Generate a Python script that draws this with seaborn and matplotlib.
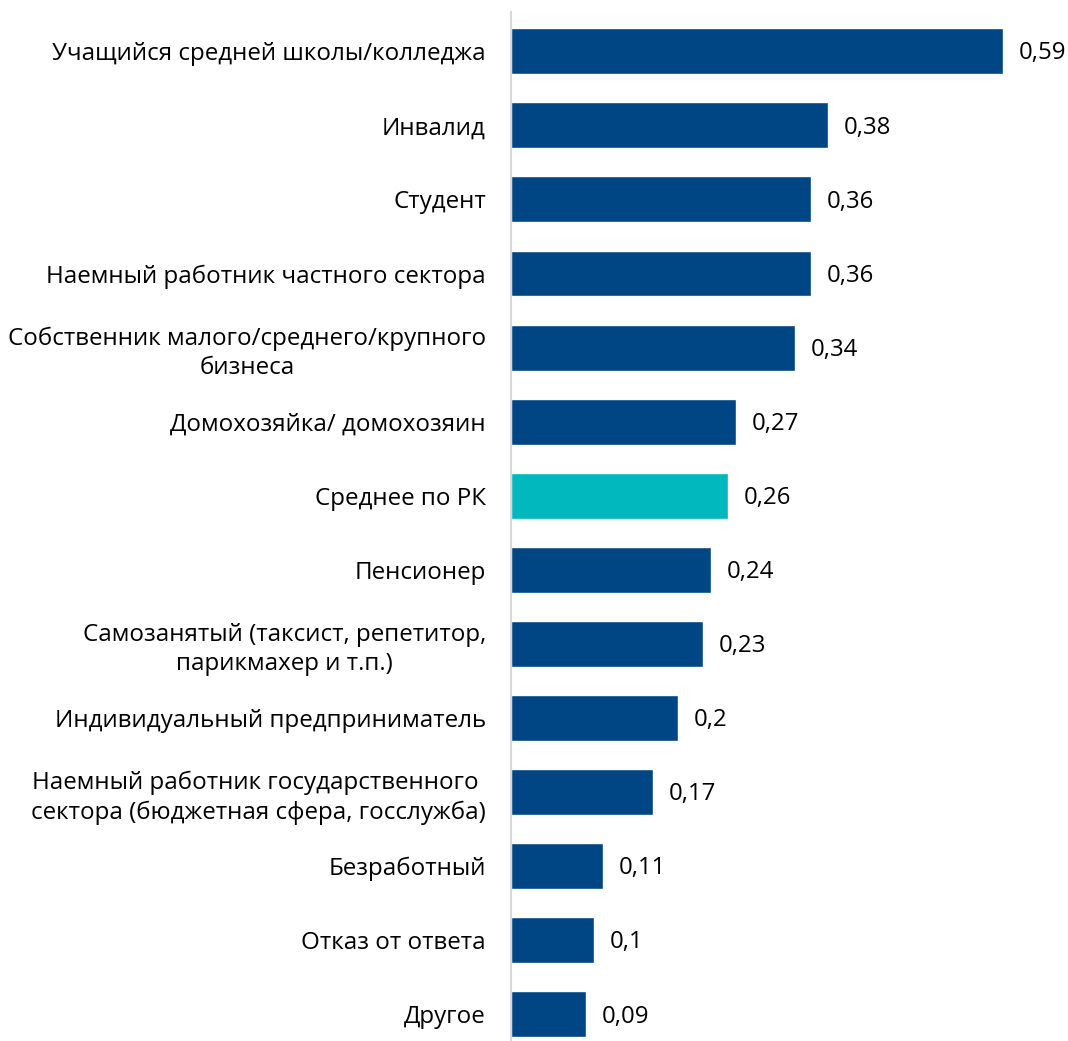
import pandas as pd
import seaborn as sns
import matplotlib.pyplot as plt

categories = [
    'Учащийся средней школы/колледжа',
    'Инвалид',
    'Студент',
    'Наемный работник частного сектора',
    'Собственник малого/среднего/крупного\nбизнеса',
    'Домохозяйка/ домохозяин',
    'Среднее по РК',
    'Пенсионер',
    'Самозанятый (таксист, репетитор,\nпарикмахер и т.п.)',
    'Индивидуальный предприниматель',
    'Наемный работник государственного \nсектора (бюджетная сфера, госслужба)',
    'Безработный',
    'Отказ от ответа',
    'Другое',
]
values = [0.59, 0.38, 0.36, 0.36, 0.34, 0.27, 0.26, 0.24, 0.23, 0.2, 0.17, 0.11, 0.1, 0.09]
value_labels = ['0,59', '0,38', '0,36', '0,36', '0,34', '0,27', '0,26', '0,24', '0,23',
                '0,2', '0,17', '0,11', '0,1', '0,09']
highlight = 'Среднее по РК'

df = pd.DataFrame({'cat': categories, 'val': values})
colors = ['#00B8BE' if c == highlight else '#004684' for c in categories]

sns.set_theme(style='white')
plt.rcParams['font.family'] = ['Open Sans', 'DejaVu Sans']

fig = plt.figure(figsize=(10.68, 10.41), dpi=100)
ax = fig.add_axes([511 / 1068, 0, 1 - 511 / 1068, 1 - 12 / 1041])

sns.barplot(data=df, y='cat', x='val', hue='cat', palette=colors, legend=False,
            orient='h', width=0.62, ax=ax, saturation=1)

for i, (v, lab) in enumerate(zip(values, value_labels)):
    ax.text(v + 0.019, i + 0.03, lab, va='center', ha='left', fontsize=17.3, color='#000000')

ax.set_xlim(0, 0.668)
ax.set_ylim(13.36, -0.53)
ax.set_xlabel('')
ax.set_ylabel('')
ax.set_xticks([])
ax.tick_params(axis='y', length=0, pad=18, labelsize=17.4, labelcolor='#000000')
for lbl in ax.get_yticklabels():
    lbl.set_multialignment('center')
    lbl.set_linespacing(1.3)
for s in ['top', 'right', 'bottom']:
    ax.spines[s].set_visible(False)
ax.spines['left'].set_color('#D9D9D9')
ax.spines['left'].set_linewidth(1.5)

fig.savefig('out.png', dpi=100)
